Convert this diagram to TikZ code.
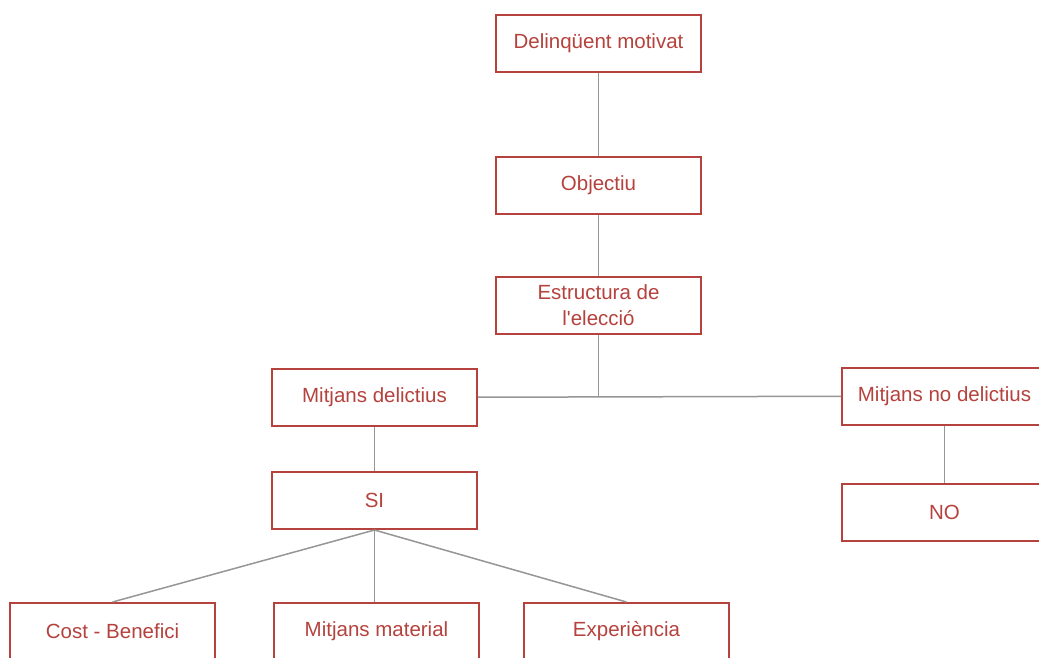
\documentclass[tikz,border=0pt]{standalone}
\usepackage{fontspec}
\newfontfamily\boxfont{Liberation Sans}
\usepackage{tikz}
\usetikzlibrary{positioning, calc}
\usepackage{xcolor}
\definecolor{boxred}{RGB}{181,66,61}
\definecolor{linegray}{RGB}{150,150,150}

\tikzset{
  caixa/.style={draw=boxred, line width=2pt, fill=white, minimum width=205pt, minimum height=57pt, inner sep=0pt, align=center, text=boxred, font=\boxfont\fontsize{20.5}{26}\selectfont},
  enllac/.style={draw=linegray, line width=1.5pt}
}

\begin{document}
\begin{tikzpicture}[x=1pt, y=-1pt] % 1 unitat = 1 px de la imatge

\useasboundingbox (0,0) rectangle (1039,657);

% punt on es talla la línia horitzontal
\coordinate (unio) at (598.5,397);

% caixes
\node[caixa] (delinq) at (598.5,43.5) {Delinqüent motivat};
\node[caixa] (objectiu) at (598.5,185.5) {Objectiu};
\node[caixa] (estructura) at (598.5,305) {Estructura de\\l'elecció};
\node[caixa] (mdel) at (374.5,397.5) {Mitjans delictius};
\node[caixa] (mnodel) at (944.5,396) {Mitjans no delictius};
\node[caixa] (si) at (374.5,500.5) {SI};
\node[caixa] (no) at (944.5,512.5) {NO};
\node[caixa] (cost) at (112.5,631.5) {Cost - Benefici};
\node[caixa] (material) at (376.5,631.5) {Mitjans material};
\node[caixa] (experiencia) at (626.5,631.5) {Experiència};

% connexions
\draw[enllac] (delinq) -- (objectiu);
\draw[enllac] (objectiu) -- (estructura);
\draw[enllac] (estructura) -- (unio);
\draw[enllac] (mdel) -- (mnodel);
\draw[enllac] (mdel) -- (si);
\draw[enllac] (mnodel) -- (no);
\draw[enllac] (si.south) -- (cost.north);
\draw[enllac] (si.south) -- (si.south |- material.north);
\draw[enllac] (si.south) -- (experiencia.north);

\end{tikzpicture}
\end{document}
